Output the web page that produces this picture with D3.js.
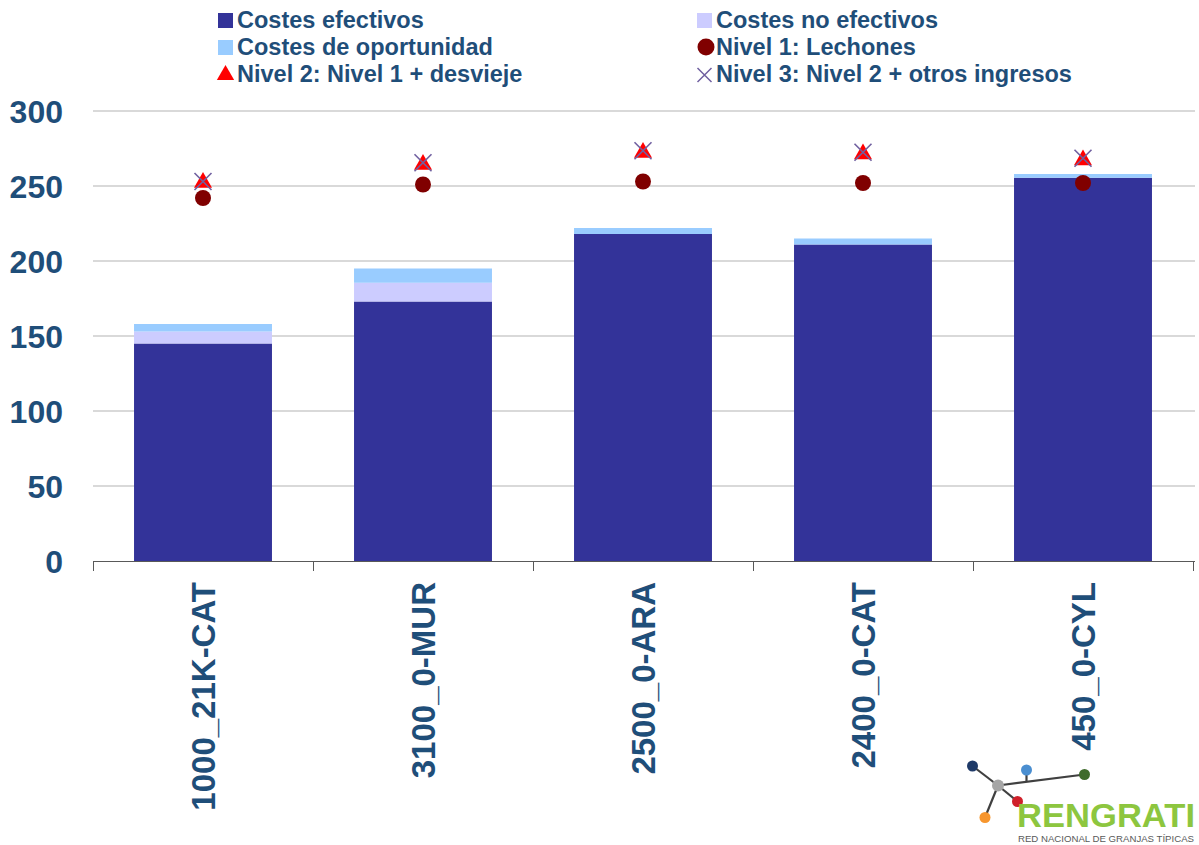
<!DOCTYPE html>
<html>
<head>
<meta charset="utf-8">
<script src="https://cdn.jsdelivr.net/npm/d3@7/dist/d3.min.js"></script>
<style>
  html, body { margin: 0; padding: 0; background: #fff; }
  svg { display: block; font-family: "Liberation Sans", Arial, sans-serif; }
</style>
</head>
<body>
<svg id="chart" width="1199" height="845"></svg>
<script>
// Farm codes along the x axis
const categories = ["1000_21K-CAT", "3100_0-MUR", "2500_0-ARA", "2400_0-CAT", "450_0-CYL"];

// Stacked cost components (€/unit)
const costesEfectivos   = [145, 173, 218, 211, 255.5];
const costesNoEfectivos = [8, 12.5, 0, 0, 0];
const costesOportunidad = [5, 9.5, 4, 4, 2.5];

// Revenue levels shown as markers
const nivel1 = [242, 251, 253, 252, 252];
const nivel2 = [253, 265, 273, 272, 268];
const nivel3 = [253, 265.5, 273.5, 272.5, 268.5];

const yTicks = [0, 50, 100, 150, 200, 250, 300];

const stackKeys = ["efectivos", "noEfectivos", "oportunidad"];
const stackColors = { efectivos: "#333399", noEfectivos: "#CCCCFF", oportunidad: "#99CCFF" };
const textColor = "#1F4E79";

const svg = d3.select("#chart");

const x = d3.scaleBand().domain(categories).range([93, 1193]).paddingInner(0.373).paddingOuter(0.1865);
const y = d3.scaleLinear().domain([0, 300]).range([561, 111]);

// Gridlines
svg.append("g")
  .selectAll("line")
  .data(yTicks.filter(d => d > 0))
  .join("line")
  .attr("x1", 93).attr("x2", 1195)
  .attr("y1", d => y(d)).attr("y2", d => y(d))
  .attr("stroke", "#D9D9D9").attr("stroke-width", 2);

// Y tick labels
svg.append("g")
  .selectAll("text")
  .data(yTicks)
  .join("text")
  .attr("x", 63).attr("y", d => y(d))
  .attr("dy", "0.36em")
  .attr("text-anchor", "end")
  .attr("font-size", 32).attr("font-weight", "bold")
  .attr("fill", textColor)
  .text(d => d);

// Stacked bars
const rows = categories.map((c, i) => ({
  cat: c,
  efectivos: costesEfectivos[i],
  noEfectivos: costesNoEfectivos[i],
  oportunidad: costesOportunidad[i]
}));
const series = d3.stack().keys(stackKeys)(rows);

svg.append("g")
  .selectAll("g")
  .data(series)
  .join("g")
  .attr("fill", s => stackColors[s.key])
  .selectAll("rect")
  .data(s => s.filter(d => d[1] - d[0] > 0))
  .join("rect")
  .attr("x", d => x(d.data.cat))
  .attr("width", x.bandwidth())
  .attr("y", d => y(d[1]))
  .attr("height", d => y(d[0]) - y(d[1]));

// Category axis
const xAxis = svg.append("g");
xAxis.append("line")
  .attr("x1", 93).attr("x2", 1195).attr("y1", 561.5).attr("y2", 561.5)
  .attr("stroke", "#595959").attr("stroke-width", 1);
const step = x.step();
const boundaries = d3.range(categories.length + 1).map(i => 93 + i * step);
xAxis.selectAll("line.tick")
  .data(boundaries)
  .join("line")
  .attr("class", "tick")
  .attr("x1", d => Math.round(d) + 0.5).attr("x2", d => Math.round(d) + 0.5)
  .attr("y1", 561).attr("y2", 571)
  .attr("stroke", "#595959");

xAxis.selectAll("text")
  .data(categories)
  .join("text")
  .attr("transform", d => `translate(${x(d) + x.bandwidth() / 2},582) rotate(-90)`)
  .attr("dy", "0.36em")
  .attr("text-anchor", "end")
  .attr("font-size", 33).attr("font-weight", "bold")
  .attr("fill", textColor)
  .text(d => d);

// Markers
const cx = i => x(categories[i]) + x.bandwidth() / 2;
const triangle = d3.symbol().type(d3.symbolTriangle).size(140);

svg.append("g")
  .selectAll("circle")
  .data(nivel1)
  .join("circle")
  .attr("cx", (d, i) => cx(i)).attr("cy", d => y(d))
  .attr("r", 8)
  .attr("fill", "#800000");

svg.append("g")
  .selectAll("path")
  .data(nivel2)
  .join("path")
  .attr("d", triangle)
  .attr("transform", (d, i) => `translate(${cx(i)},${y(d) + 1})`)
  .attr("fill", "#FF0000");

const cross = (cxv, cyv, h) => `M${cxv - h},${cyv - h}L${cxv + h},${cyv + h}M${cxv - h},${cyv + h}L${cxv + h},${cyv - h}`;
svg.append("g")
  .selectAll("path")
  .data(nivel3)
  .join("path")
  .attr("d", (d, i) => cross(cx(i), y(d), 8.5))
  .attr("stroke", "#7060A0").attr("stroke-width", 1.6).attr("fill", "none");

// Legend
const legendItems = [
  { label: "Costes efectivos", type: "square", color: "#333399", x: 218, y: 20 },
  { label: "Costes no efectivos", type: "square", color: "#CCCCFF", x: 697, y: 20 },
  { label: "Costes de oportunidad", type: "square", color: "#99CCFF", x: 218, y: 47 },
  { label: "Nivel 1: Lechones", type: "circle", color: "#800000", x: 697, y: 47 },
  { label: "Nivel 2: Nivel 1 + desvieje", type: "triangle", color: "#FF0000", x: 218, y: 74 },
  { label: "Nivel 3: Nivel 2 + otros ingresos", type: "cross", color: "#7060A0", x: 697, y: 74 }
];
const lg = svg.append("g").selectAll("g").data(legendItems).join("g")
  .attr("transform", d => `translate(${d.x},${d.y})`);
lg.each(function (d) {
  const g = d3.select(this);
  if (d.type === "square") {
    g.append("rect").attr("x", 0).attr("y", -7).attr("width", 15).attr("height", 15).attr("fill", d.color);
  } else if (d.type === "circle") {
    g.append("circle").attr("cx", 9).attr("cy", 0).attr("r", 8.5).attr("fill", d.color);
  } else if (d.type === "triangle") {
    g.append("path").attr("d", d3.symbol().type(d3.symbolTriangle).size(130)).attr("transform", "translate(7.5,1)").attr("fill", d.color);
  } else {
    g.append("path").attr("d", cross(7.5, 1, 7)).attr("stroke", d.color).attr("stroke-width", 1.5).attr("fill", "none");
  }
  g.append("text")
    .attr("x", 19).attr("y", 0).attr("dy", "0.36em")
    .attr("font-size", 23.5).attr("font-weight", "bold").attr("fill", textColor)
    .text(d.label);
});

// RENGRATI logo
const logo = svg.append("g");
const nodes = {
  navy: [972.5, 766, "#1F3A68", 5.5],
  gray: [998, 785.5, "#A6A6A6", 6],
  blue: [1026.5, 770, "#4A8ED0", 5.5],
  green: [1084.5, 774.5, "#3F6B2B", 5.5],
  red: [1017.5, 801.5, "#D0202A", 5.5],
  orange: [985, 817.5, "#F7962E", 5.5]
};
const links = [["navy", "gray"], ["gray", "orange"], ["gray", "red"], ["gray", "green"]];
logo.selectAll("line.l").data(links).join("line")
  .attr("x1", d => nodes[d[0]][0]).attr("y1", d => nodes[d[0]][1])
  .attr("x2", d => nodes[d[1]][0]).attr("y2", d => nodes[d[1]][1])
  .attr("stroke", "#404040").attr("stroke-width", 2.2);
logo.append("line")
  .attr("x1", nodes.blue[0]).attr("y1", nodes.blue[1])
  .attr("x2", nodes.blue[0]).attr("y2", 782)
  .attr("stroke", "#404040").attr("stroke-width", 2.2);
logo.selectAll("circle").data(Object.values(nodes)).join("circle")
  .attr("cx", d => d[0]).attr("cy", d => d[1]).attr("r", d => d[3]).attr("fill", d => d[2]);
logo.append("text")
  .attr("x", 1017).attr("y", 827)
  .attr("font-size", 34).attr("font-weight", "bold").attr("fill", "#8DC63F")
  .attr("textLength", 178).attr("lengthAdjust", "spacingAndGlyphs")
  .text("RENGRATI");
logo.append("text")
  .attr("x", 1018).attr("y", 842)
  .attr("font-size", 9.5).attr("fill", "#595959")
  .attr("textLength", 176).attr("lengthAdjust", "spacingAndGlyphs")
  .text("RED NACIONAL DE GRANJAS TÍPICAS");
</script>
</body>
</html>
